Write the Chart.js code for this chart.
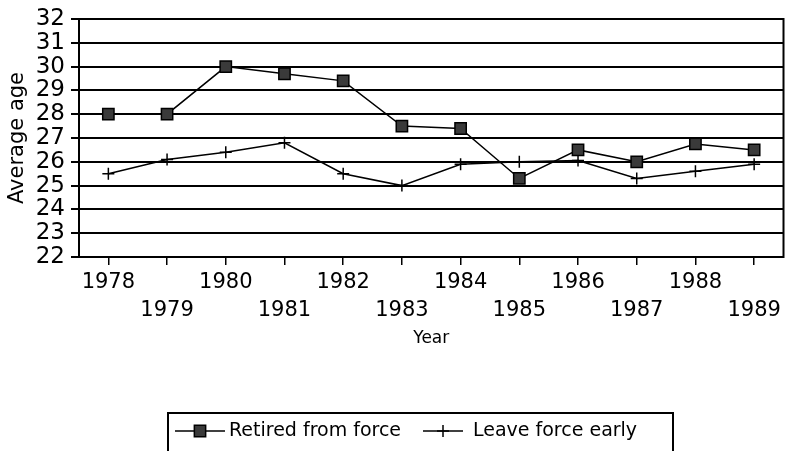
<!DOCTYPE html>
<html>
<head>
<meta charset="utf-8">
<script src="https://cdn.jsdelivr.net/npm/chart.js@4.4.1/dist/chart.umd.min.js"></script>
<style>
  html, body { margin: 0; padding: 0; background: #fff; }
  #chart { display: block; }
</style>
</head>
<body>
<canvas id="chart" width="793" height="451"></canvas>
<script>
const years = ['1978', '1979', '1980', '1981', '1982', '1983', '1984', '1985', '1986', '1987', '1988', '1989'];
const retired = [28, 28, 30, 29.7, 29.4, 27.5, 27.4, 25.3, 26.5, 26.0, 26.75, 26.5];
const leaveEarly = [25.5, 26.1, 26.4, 26.8, 25.5, 25.0, 25.9, 26.0, 26.05, 25.3, 25.6, 25.9];
const seriesNames = ['Retired from force', 'Leave force early'];
const yMin = 22, yMax = 32;

const FONT = "'DejaVu Sans', sans-serif";

// box around the plot + the boxed legend under the chart
const frameAndLegend = {
  id: 'frameAndLegend',
  afterDraw(chart) {
    const ctx = chart.ctx;
    const a = chart.chartArea;
    ctx.save();
    ctx.strokeStyle = '#000';
    ctx.lineWidth = 2;
    ctx.strokeRect(a.left, a.top, a.right - a.left, a.bottom - a.top);

    // legend
    ctx.font = '19px ' + FONT;
    ctx.textBaseline = 'middle';
    const ly = 431;
    const itemX = [175, 423];
    const lineLen = [50, 40];
    chart.data.datasets.forEach((ds, i) => {
      const x = itemX[i];
      ctx.lineWidth = 1.5;
      ctx.strokeStyle = '#000';
      ctx.beginPath();
      ctx.moveTo(x, ly);
      ctx.lineTo(x + lineLen[i], ly);
      ctx.stroke();
      ctx.fillStyle = ds.backgroundColor;
      Chart.helpers.drawPoint(ctx, {
        pointStyle: ds.pointStyle, radius: ds.pointRadius, borderWidth: 1.5
      }, x + lineLen[i] / 2, ly);
      ctx.fillStyle = '#000';
      ctx.fillText(ds.label, x + lineLen[i] + (i === 0 ? 4 : 10), ly);
    });
    ctx.lineWidth = 2;
    ctx.beginPath();
    ctx.moveTo(168, 460);
    ctx.lineTo(168, 413);
    ctx.lineTo(673, 413);
    ctx.lineTo(673, 460);
    ctx.stroke();
    ctx.restore();
  }
};

new Chart(document.getElementById('chart'), {
  type: 'line',
  data: {
    labels: years,
    datasets: [
      {
        label: seriesNames[0],
        data: retired,
        borderColor: '#000',
        borderWidth: 1.5,
        backgroundColor: '#3a3a3a',
        pointStyle: 'rect',
        pointRadius: 8,
        pointBorderWidth: 1.5,
        pointBorderColor: '#000',
        tension: 0
      },
      {
        label: seriesNames[1],
        data: leaveEarly,
        borderColor: '#000',
        borderWidth: 1.5,
        backgroundColor: '#000',
        pointStyle: 'cross',
        pointRadius: 6,
        pointBorderWidth: 1.5,
        pointBorderColor: '#000',
        tension: 0
      }
    ]
  },
  options: {
    responsive: false,
    animation: false,
    layout: { padding: { top: 19, right: 1, bottom: 102, left: 0 } },
    plugins: { legend: { display: false }, tooltip: { enabled: false } },
    scales: {
      x: {
        type: 'category',
        offset: true,
        grid: { drawOnChartArea: false, drawTicks: true, tickLength: 8, color: '#000', lineWidth: 1.5 },
        border: { display: false },
        ticks: {
          autoSkip: false,
          maxRotation: 0,
          color: '#000',
          padding: 3,
          font: { family: FONT, size: 21, lineHeight: 1.35 },
          callback: function (value, index) {
            const lbl = this.getLabelForValue(value);
            return index % 2 === 0 ? lbl : ['', lbl];
          }
        },
        title: {
          display: true,
          text: 'Year',
          color: '#000',
          font: { family: FONT, size: 17 },
          padding: { top: 4, bottom: 0 }
        },
        afterFit(scale) { scale.height = 92; }
      },
      y: {
        min: yMin,
        max: yMax,
        grid: { color: '#000', lineWidth: 2, tickLength: 8 },
        border: { display: false },
        ticks: {
          stepSize: 1,
          autoSkip: false,
          color: '#000',
          padding: 6,
          font: { family: FONT, size: 23, lineHeight: 1 }
        },
        title: {
          display: true,
          text: 'Average age',
          color: '#000',
          font: { family: FONT, size: 21 },
          padding: { top: 5, bottom: 0 }
        },
        afterFit(scale) { scale.width = 79; }
      }
    }
  },
  plugins: [frameAndLegend]
});
</script>
</body>
</html>
